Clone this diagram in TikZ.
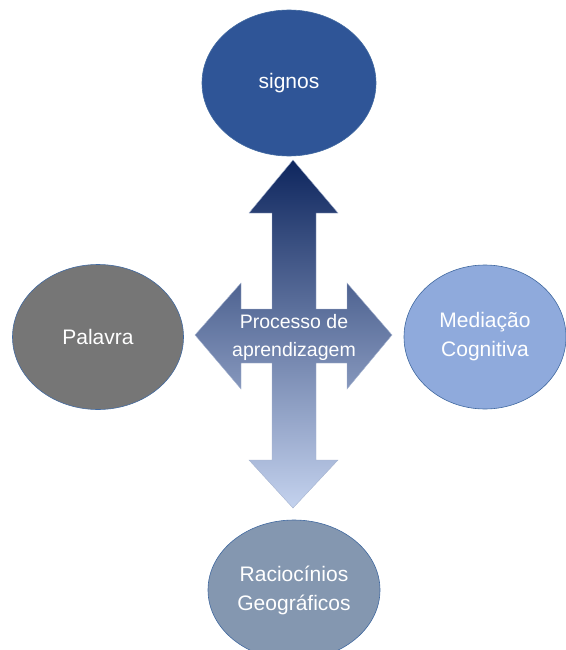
\documentclass[tikz,border=0pt]{standalone}
\usepackage{fontspec}
\setmainfont{Liberation Sans}
\usetikzlibrary{shapes.geometric}

\definecolor{signoblue}{RGB}{47,85,151}
\definecolor{palgray}{RGB}{118,118,118}
\definecolor{medblue}{RGB}{143,170,220}
\definecolor{racblue}{RGB}{132,151,176}
\definecolor{rimblue}{RGB}{65,105,160}
\definecolor{arrtop}{RGB}{14,38,94}
\definecolor{arrmid}{RGB}{105,128,175}
\definecolor{arrbot}{RGB}{196,210,238}

\tikzset{
  bubble/.style={ellipse, draw=rimblue, line width=.6pt, inner sep=0pt,
    text=white, align=center, font=\fontsize{21}{29}\selectfont},
  arrowtext/.style={text=white, align=center, font=\fontsize{19.5}{28}\selectfont}
}

\begin{document}
\begin{tikzpicture}[x=1pt,y=-1pt]
\useasboundingbox (0,0) rectangle (565,650);
% cross arrow
\shade [top color=arrtop, middle color=arrmid, bottom color=arrbot, draw=arrmid!60, line width=.4pt]
  (293,160) -- (338,213) -- (316,213) -- (316,309) -- (347,309) -- (347,283)
  -- (392,335) -- (347,389) -- (347,363) -- (316,363) -- (316,460) -- (338,460)
  -- (293,508) -- (249,460) -- (272,460) -- (272,363) -- (241,363) -- (241,389)
  -- (195,335) -- (241,283) -- (241,309) -- (272,309) -- (272,213) -- (249,213) -- cycle;
\node [arrowtext] (proc) at (294,337) {Processo de\\aprendizagem};
% the four ellipses
\node [bubble, fill=signoblue, minimum width=174pt, minimum height=146pt] (signos) at (289,83) {signos};
\node [bubble, fill=palgray, minimum width=171pt, minimum height=145pt] (palavra) at (98,337) {Palavra};
\node [bubble, fill=medblue, minimum width=162pt, minimum height=144pt] (mediacao) at (485,337) {Mediação\\Cognitiva};
\node [bubble, fill=racblue, minimum width=172pt, minimum height=140pt] (racioc) at (294,590) {Raciocínios\\Geográficos};
\end{tikzpicture}
\end{document}
